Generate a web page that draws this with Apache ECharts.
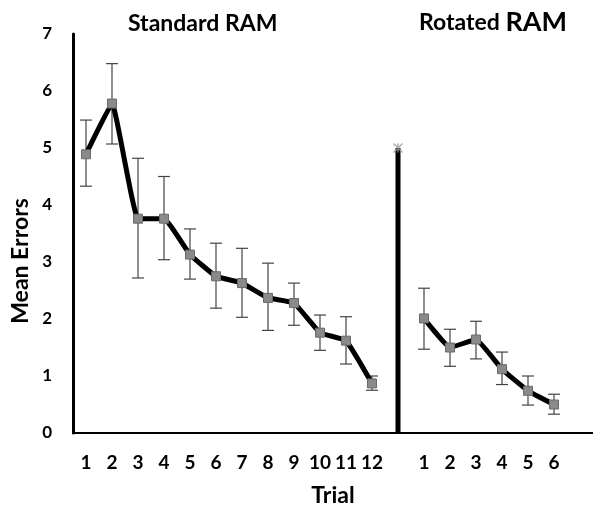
<!DOCTYPE html>
<html>
<head>
<meta charset="utf-8">
<script src="https://cdn.jsdelivr.net/npm/echarts@6/dist/echarts.min.js"></script>
<style>
	html, body {margin: 0; padding: 0; background: #fff;}
	#chart {width: 593px; height: 512px;}
</style>
</head>
<body>
<div id="chart"></div>
<script>
	// 类别：12 次标准试验 + 分隔 + 6 次旋转试验 + 末尾空位
	var categories = ['1','2','3','4','5','6','7','8','9','10','11','12','','1','2','3','4','5','6','']
	var standardMean = [4.89, 5.78, 3.76, 3.76, 3.13, 2.75, 2.63, 2.37, 2.28, 1.76, 1.62, 0.87]
	var standardHigh = [5.49, 6.48, 4.82, 4.50, 3.58, 3.33, 3.24, 2.98, 2.63, 2.07, 2.04, 1.00]
	var standardLow = [4.33, 5.07, 2.72, 3.04, 2.70, 2.19, 2.03, 1.80, 1.89, 1.45, 1.21, 0.75]
	var rotatedMean = [2.01, 1.50, 1.64, 1.12, 0.74, 0.50]
	var rotatedHigh = [2.54, 1.82, 1.96, 1.42, 1.00, 0.68]
	var rotatedLow = [1.47, 1.17, 1.30, 0.85, 0.49, 0.33]
	var dividerValue = 5
	var dividerIndex = 12
	var rotatedStart = 13

	var font = 'Lato'

	//拼出折线数据，缺位用 '-'
	var leftLine = []
	var rightLine = []
	var errData = []
	for (var x = 0; x < categories.length; x++) {
		leftLine.push('-')
		rightLine.push('-')
	}
	for (var x = 0; x < standardMean.length; x++) {
		leftLine[x] = standardMean[x]
		errData.push([x, standardLow[x], standardHigh[x]])
	}
	for (var x = 0; x < rotatedMean.length; x++) {
		rightLine[rotatedStart + x] = rotatedMean[x]
		errData.push([rotatedStart + x, rotatedLow[x], rotatedHigh[x]])
	}
	var dividerBar = categories.map(function(c, i) {
		return i == dividerIndex ? dividerValue : '-'
	})

	var chart = echarts.init(document.getElementById('chart'))

	var lineStyle = {color: '#000', width: 5}
	var markerStyle = {color: '#8a8a8a', borderColor: '#6a6a6a', borderWidth: 1}

	chart.setOption({
		animation: false,
		grid: {left: 73, right: 0, top: 34, bottom: 76},
		title: [
			{text: 'Standard RAM', left: 123, top: 7, textStyle: {fontFamily: font, fontWeight: 'bold', fontSize: 23, color: '#000'}},
			{text: 'Rotated {b|RAM}', left: 414, top: 4, textStyle: {fontFamily: font, fontWeight: 'bold', fontSize: 23, color: '#000', rich: {b: {fontFamily: font, fontWeight: 'bold', fontSize: 27, color: '#000'}}}}
		],
		graphic: [
			{type: 'text', x: 9, y: 261, rotation: Math.PI / 2, style: {text: 'Mean Errors', fontFamily: font, fontWeight: 'bold', fontSize: 23, fill: '#000', align: 'center', verticalAlign: 'top'}}
		],
		xAxis: {
			type: 'category',
			data: categories,
			name: 'Trial',
			nameLocation: 'middle',
			nameGap: 51,
			nameTextStyle: {fontFamily: font, fontWeight: 'bold', fontSize: 23, color: '#000'},
			axisLine: {lineStyle: {color: '#000', width: 2}},
			axisTick: {show: false},
			axisLabel: {fontFamily: font, fontWeight: 'bold', fontSize: 19, color: '#000', margin: 20, interval: 0}
		},
		yAxis: {
			type: 'value',
			min: 0,
			max: 7,
			interval: 1,
			axisLine: {show: true, lineStyle: {color: '#000', width: 3}},
			axisTick: {show: false},
			splitLine: {show: false},
			axisLabel: {fontFamily: font, fontWeight: 'bold', fontSize: 17, color: '#000', margin: 21}
		},
		series: [
			{
				type: 'bar',
				data: dividerBar,
				barWidth: 5,
				itemStyle: {color: '#000'},
				z: 1
			},
			{
				type: 'scatter',
				data: categories.map(function(c, i) { return i == dividerIndex ? dividerValue : '-' }),
				symbol: 'path://M0,0L10,10M10,0L0,10M5,0L5,10',
				symbolSize: 9,
				itemStyle: {color: 'none', borderColor: '#999', borderWidth: 1.5},
				z: 3
			},
			{
				type: 'custom',
				data: errData,
				z: 2,
				renderItem: function(params, api) {
					var lo = api.coord([api.value(0), api.value(1)])
					var hi = api.coord([api.value(0), api.value(2)])
					var w = 6
					var style = {stroke: '#444', lineWidth: 1.2}
					return {
						type: 'group',
						children: [
							{type: 'line', shape: {x1: lo[0], y1: lo[1], x2: hi[0], y2: hi[1]}, style: style},
							{type: 'line', shape: {x1: lo[0] - w, y1: lo[1], x2: lo[0] + w, y2: lo[1]}, style: style},
							{type: 'line', shape: {x1: hi[0] - w, y1: hi[1], x2: hi[0] + w, y2: hi[1]}, style: style}
						]
					}
				}
			},
			{
				type: 'line',
				data: leftLine,
				smooth: 0.1,
				symbol: 'rect',
				symbolSize: 9,
				showAllSymbol: true,
				lineStyle: lineStyle,
				itemStyle: markerStyle,
				z: 4
			},
			{
				type: 'line',
				data: rightLine,
				smooth: 0.1,
				symbol: 'rect',
				symbolSize: 9,
				showAllSymbol: true,
				lineStyle: lineStyle,
				itemStyle: markerStyle,
				z: 4
			}
		]
	})
</script>
</body>
</html>
